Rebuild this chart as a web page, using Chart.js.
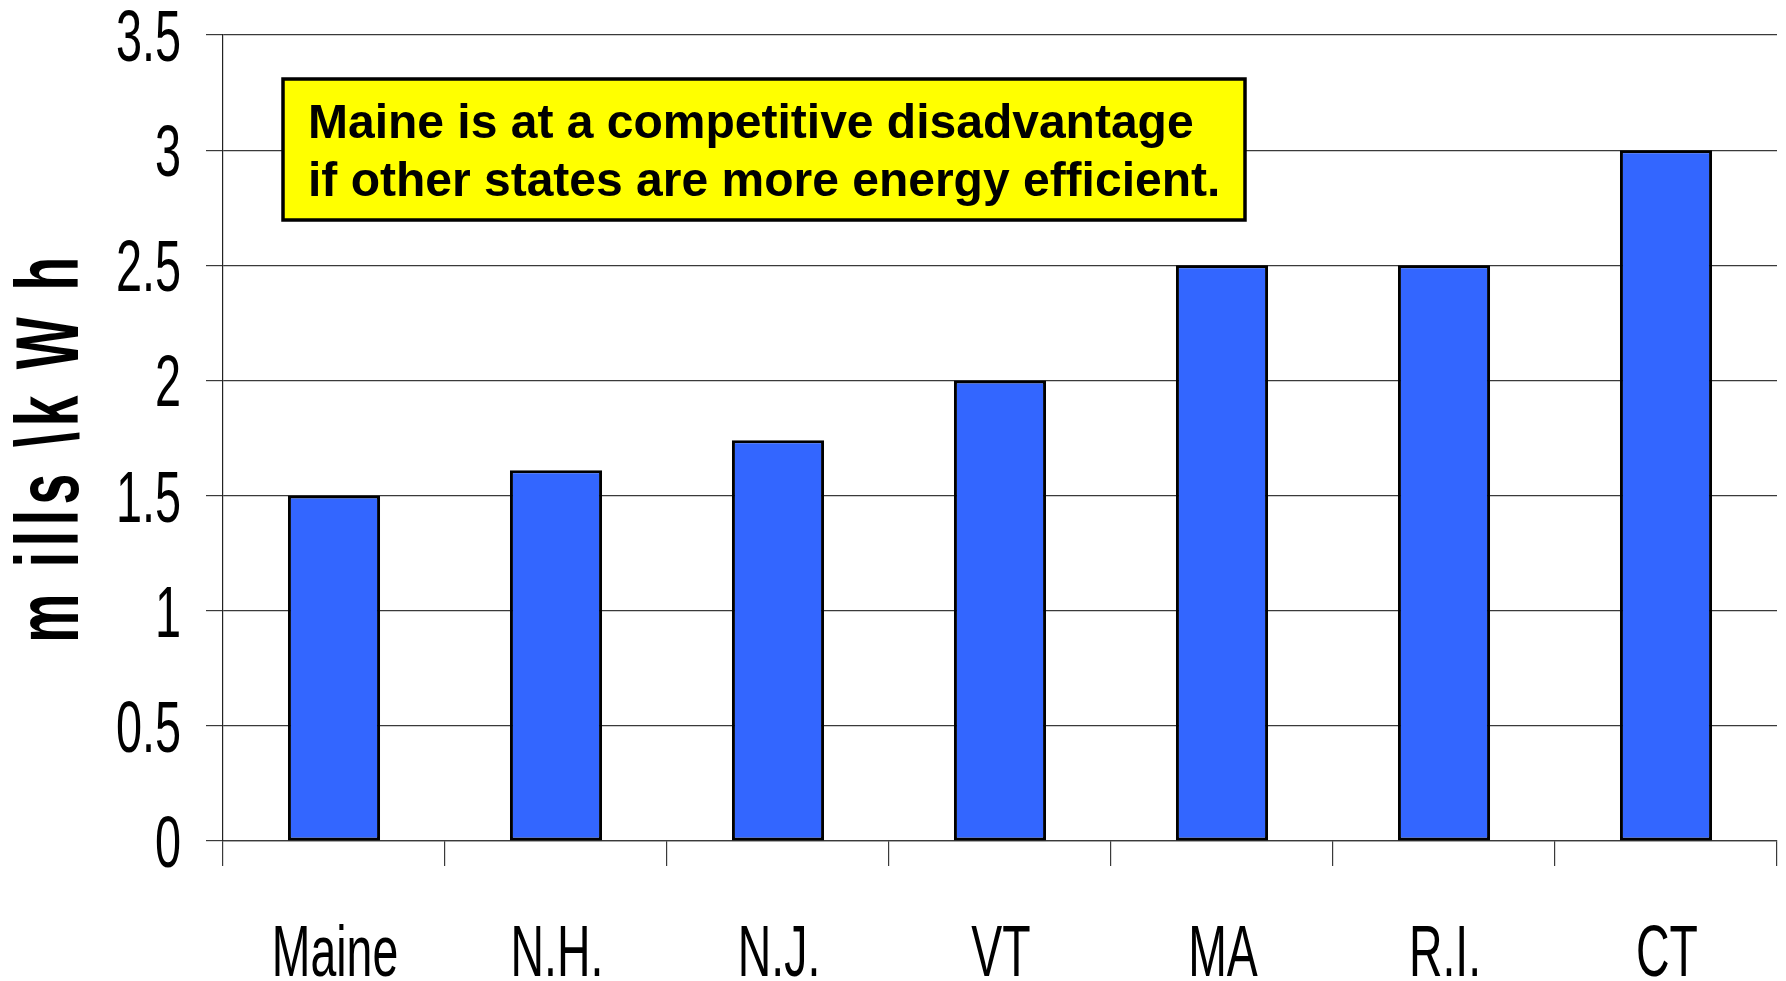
<!DOCTYPE html>
<html>
<head>
<meta charset="utf-8">
<title>mills per kWh by state</title>
<script src="https://cdn.jsdelivr.net/npm/chart.js@4.4.1/dist/chart.umd.min.js"></script>
<style>
  html, body { margin: 0; padding: 0; background: #fff; }
  #wrap { width: 1786px; height: 981px; }
</style>
</head>
<body>
<div id="wrap"><canvas id="chart" width="1786" height="981"></canvas></div>
<script>
"use strict";

const states = ["Maine", "N.H.", "N.J.", "VT", "MA", "R.I.", "CT"];
const millsPerKwh = [1.5, 1.61, 1.74, 2.0, 2.5, 2.5, 3.0];
const yMin = 0;
const yMax = 3.5;
const yStep = 0.5;
const axisTitle = "m ills \\k W h";
const noteLines = [
  "Maine is at a competitive disadvantage",
  "if other states are more energy efficient.",
];

const sans = "'Liberation Sans', Arial, sans-serif";
const gridColor = "#3a3a3a";

// the original uses a horizontally squeezed Arial, so the axis texts are
// drawn here with a scale transform instead of the built-in tick renderer
function squeezedText(ctx, text, x, y, sx, align) {
  ctx.save();
  ctx.translate(x, y);
  ctx.scale(sx, 1);
  ctx.textAlign = align;
  ctx.fillText(text, 0, 0);
  ctx.restore();
}

const axisText = {
  id: "axisText",
  afterDraw(chart) {
    const { ctx } = chart;
    const xs = chart.scales.x;
    const ys = chart.scales.y;
    ctx.save();
    ctx.fillStyle = "#000";
    ctx.textBaseline = "alphabetic";
    ctx.font = "72px " + sans;
    ys.ticks.forEach((t, i) => {
      squeezedText(ctx, String(t.value), ys.right - 42, ys.getPixelForTick(i) + 26, 0.65, "right");
    });
    xs.ticks.forEach((t, i) => {
      squeezedText(ctx, String(t.label), xs.getPixelForTick(i) + 1, 976, 0.645, "center");
    });

    // y axis title
    const mid = (chart.chartArea.top + chart.chartArea.bottom) / 2 + 9;
    ctx.font = "bold 89px " + sans;
    ctx.letterSpacing = "9px";
    ctx.translate(78, mid);
    ctx.rotate(-Math.PI / 2);
    squeezedText(ctx, axisTitle, 0, 0, 0.62, "center");
    ctx.restore();
  },
};

// yellow call-out box sitting in the upper left of the plot
const noteBox = {
  id: "noteBox",
  afterDraw(chart) {
    const { ctx, chartArea } = chart;
    const x = chartArea.left + 60;
    const y = chartArea.top + 44;
    const w = 962;
    const h = 141;
    ctx.save();
    ctx.fillStyle = "#ffff00";
    ctx.fillRect(x, y, w, h);
    ctx.lineWidth = 3.5;
    ctx.strokeStyle = "#000";
    ctx.strokeRect(x, y, w, h);
    ctx.fillStyle = "#000";
    ctx.font = "bold 48px " + sans;
    ctx.textBaseline = "alphabetic";
    ctx.fillText(noteLines[0], x + 25, y + 59);
    ctx.fillText(noteLines[1], x + 25, y + 117);
    ctx.restore();
  },
};

new Chart(document.getElementById("chart"), {
  type: "bar",
  data: {
    labels: states,
    datasets: [
      {
        data: millsPerKwh,
        backgroundColor: "#3366ff",
        borderColor: "#000",
        borderWidth: 3,
        borderSkipped: false,
        barPercentage: 0.415,
        categoryPercentage: 1,
      },
    ],
  },
  options: {
    responsive: false,
    animation: false,
    layout: { padding: { top: 35, right: 9, left: 0, bottom: 0 } },
    plugins: {
      legend: { display: false },
      tooltip: { enabled: false },
    },
    scales: {
      x: {
        offset: true,
        grid: {
          offset: true,
          drawOnChartArea: false,
          drawTicks: true,
          tickLength: 25,
          color: gridColor,
          lineWidth: 1.2,
        },
        border: { display: true, color: gridColor, width: 1.2 },
        ticks: { display: false, autoSkip: false },
        afterFit(scale) {
          scale.height = 140;
        },
      },
      y: {
        min: yMin,
        max: yMax,
        ticks: { stepSize: yStep, display: false },
        grid: {
          color: gridColor,
          lineWidth: 1.2,
          drawTicks: true,
          tickLength: 17,
        },
        border: { display: true, color: "#222", width: 1.2 },
        title: { display: false, text: axisTitle },
        afterFit(scale) {
          scale.width = 223;
        },
      },
    },
  },
  plugins: [axisText, noteBox],
});
</script>
</body>
</html>
